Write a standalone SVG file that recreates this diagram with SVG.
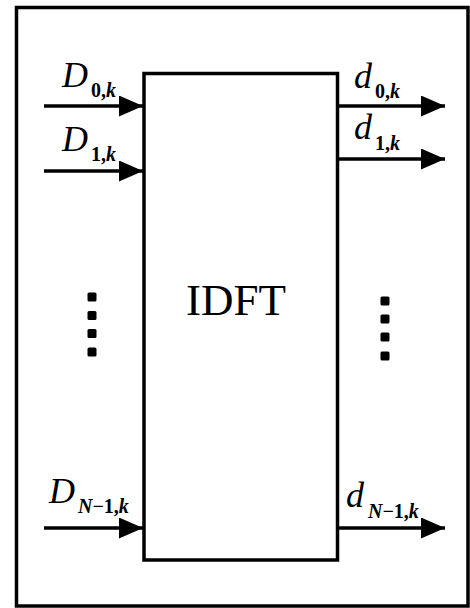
<svg xmlns="http://www.w3.org/2000/svg" width="470" height="608" viewBox="0 0 470 608">
  <defs>
    <marker id="ah" markerWidth="24" markerHeight="21" refX="24" refY="10.5" orient="auto" markerUnits="userSpaceOnUse">
      <path d="M0,0 L24,10.5 L0,21 Z" fill="#000"/>
    </marker>
  </defs>
  <style>
    .frame { fill: #fff; stroke: #000; stroke-width: 3.5; }
    .box { fill: #fff; stroke: #000; stroke-width: 3.5; }
    .conn { stroke: #000; stroke-width: 3.5; fill: none; }
    .lab { font-family: "Liberation Serif", "Times New Roman", serif; font-style: italic; font-size: 36px; fill: #000; }
    .sub { font-family: "Liberation Serif", "Times New Roman", serif; font-size: 20px; font-weight: bold; fill: #000; }
    .ttl { font-family: "Liberation Serif", "Times New Roman", serif; font-size: 45px; fill: #000; }
    .dot { fill: #000; }
  </style>
  <rect x="0" y="0" width="470" height="608" fill="#fff"/>
  <rect class="frame" x="16.5" y="7.5" width="451.5" height="598.5"/>

  <g id="idft">
    <rect class="box" x="144" y="73.5" width="193.5" height="486.5"/>
    <text class="ttl" x="236" y="315" text-anchor="middle">IDFT</text>
  </g>

  <g id="connectors">
    <line class="conn" x1="44" y1="106" x2="143" y2="106" marker-end="url(#ah)"/>
    <line class="conn" x1="44" y1="171" x2="143" y2="171" marker-end="url(#ah)"/>
    <line class="conn" x1="44" y1="528" x2="143" y2="528" marker-end="url(#ah)"/>
    <line class="conn" x1="338" y1="106" x2="445" y2="106" marker-end="url(#ah)"/>
    <line class="conn" x1="338" y1="159" x2="445" y2="159" marker-end="url(#ah)"/>
    <line class="conn" x1="338" y1="528" x2="445" y2="528" marker-end="url(#ah)"/>
  </g>

  <g id="input-labels">
    <text class="lab" x="62" y="87">D</text>
    <text class="sub" x="91" y="97">0,<tspan font-style="italic">k</tspan></text>
    <text class="lab" x="62" y="151">D</text>
    <text class="sub" x="91" y="161">1,<tspan font-style="italic">k</tspan></text>
    <text class="lab" x="49" y="503">D</text>
    <text class="sub" x="78" y="513"><tspan font-style="italic">N</tspan>−1,<tspan font-style="italic">k</tspan></text>
  </g>

  <g id="output-labels">
    <text class="lab" x="354" y="88">d</text>
    <text class="sub" x="375" y="98">0,<tspan font-style="italic">k</tspan></text>
    <text class="lab" x="354" y="139">d</text>
    <text class="sub" x="375" y="150">1,<tspan font-style="italic">k</tspan></text>
    <text class="lab" x="346" y="507">d</text>
    <text class="sub" x="368" y="518"><tspan font-style="italic">N</tspan>−1,<tspan font-style="italic">k</tspan></text>
  </g>

  <g id="dots-left">
    <rect class="dot" x="87.5" y="292.5" width="9" height="9" rx="1.5"/>
    <rect class="dot" x="87.5" y="311" width="9" height="9" rx="1.5"/>
    <rect class="dot" x="87.5" y="329" width="9" height="9" rx="1.5"/>
    <rect class="dot" x="87.5" y="347.5" width="9" height="9" rx="1.5"/>
  </g>
  <g id="dots-right">
    <rect class="dot" x="380.5" y="296.5" width="9" height="9" rx="1.5"/>
    <rect class="dot" x="380.5" y="314.5" width="9" height="9" rx="1.5"/>
    <rect class="dot" x="380.5" y="332.5" width="9" height="9" rx="1.5"/>
    <rect class="dot" x="380.5" y="351.5" width="9" height="9" rx="1.5"/>
  </g>
</svg>
